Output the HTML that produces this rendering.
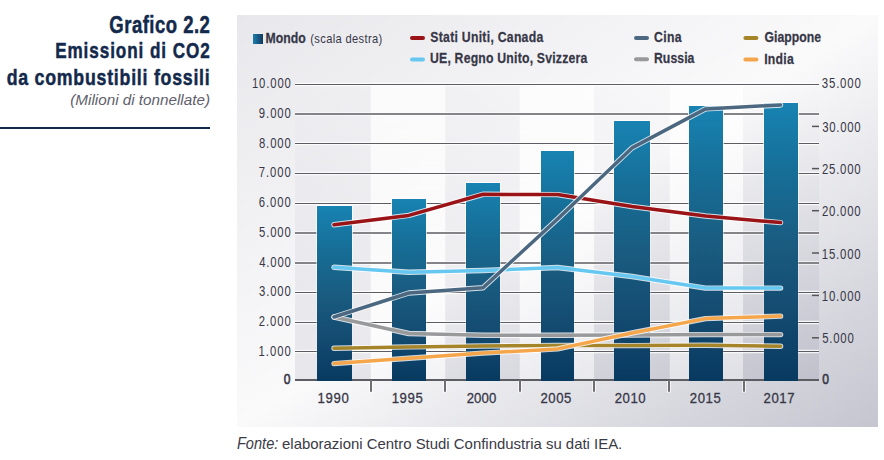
<!DOCTYPE html><html><head><meta charset="utf-8"><style>html,body{margin:0;padding:0;background:#fff;width:884px;height:460px;overflow:hidden}svg{display:block;font-family:"Liberation Sans", sans-serif;font-kerning:none;font-variant-ligatures:none}</style></head><body>
<svg width="884" height="460" viewBox="0 0 884 460">
<defs>
<linearGradient id="pg" x1="0" y1="0" x2="1" y2="1"><stop offset="0" stop-color="#e8e8ec"/><stop offset="0.5" stop-color="#fafafb"/><stop offset="1" stop-color="#c4c5cf"/></linearGradient>
<linearGradient id="gb" x1="0" y1="0" x2="0" y2="1"><stop offset="0" stop-color="#282850" stop-opacity="0"/><stop offset="1" stop-color="#282850" stop-opacity="0.09"/></linearGradient>
<linearGradient id="wb" x1="0" y1="0" x2="0" y2="1"><stop offset="0" stop-color="#ffffff" stop-opacity="0.75"/><stop offset="1" stop-color="#ffffff" stop-opacity="0.22"/></linearGradient>
<linearGradient id="bar" x1="0" y1="0" x2="0" y2="1"><stop offset="0" stop-color="#1883b2"/><stop offset="0.25" stop-color="#166e97"/><stop offset="0.5" stop-color="#1a5c81"/><stop offset="0.75" stop-color="#144b71"/><stop offset="1" stop-color="#083a60"/></linearGradient>
<linearGradient id="leg" x1="0" y1="0" x2="1" y2="0"><stop offset="0" stop-color="#1a7fb0"/><stop offset="1" stop-color="#13385c"/></linearGradient>
<linearGradient id="bw" x1="0" y1="0" x2="0" y2="1"><stop offset="0" stop-color="#fff" stop-opacity="0.8"/><stop offset="1" stop-color="#fff" stop-opacity="0"/></linearGradient>
</defs>
<rect x="237" y="15" width="641" height="412" fill="url(#pg)"/>
<rect x="295" y="84.4" width="75.8" height="295.6" fill="url(#gb)"/>
<rect x="370.8" y="84.4" width="74.4" height="295.6" fill="url(#wb)"/>
<rect x="445.2" y="84.4" width="74.6" height="295.6" fill="url(#gb)"/>
<rect x="519.8" y="84.4" width="74.2" height="295.6" fill="url(#wb)"/>
<rect x="594" y="84.4" width="75.8" height="295.6" fill="url(#gb)"/>
<rect x="669.8" y="84.4" width="73.2" height="295.6" fill="url(#wb)"/>
<rect x="743" y="84.4" width="76.0" height="295.6" fill="url(#gb)"/>
<line x1="295" x2="819" y1="380.0" y2="380.0" stroke="#5c5d62" stroke-width="2"/>
<line x1="295" x2="819" y1="351.5" y2="351.5" stroke="#ffffff" stroke-opacity="0.8" stroke-width="3.4"/>
<line x1="295" x2="819" y1="351.5" y2="351.5" stroke="#5c5d62" stroke-width="1.2"/>
<line x1="295" x2="819" y1="322.5" y2="322.5" stroke="#ffffff" stroke-opacity="0.8" stroke-width="3.4"/>
<line x1="295" x2="819" y1="322.5" y2="322.5" stroke="#5c5d62" stroke-width="1.2"/>
<line x1="295" x2="819" y1="292.5" y2="292.5" stroke="#ffffff" stroke-opacity="0.8" stroke-width="3.4"/>
<line x1="295" x2="819" y1="292.5" y2="292.5" stroke="#5c5d62" stroke-width="1.2"/>
<line x1="295" x2="819" y1="263.0" y2="263.0" stroke="#ffffff" stroke-opacity="0.8" stroke-width="3.4"/>
<line x1="295" x2="819" y1="263.0" y2="263.0" stroke="#5c5d62" stroke-width="1.7"/>
<line x1="295" x2="819" y1="233.0" y2="233.0" stroke="#ffffff" stroke-opacity="0.8" stroke-width="3.4"/>
<line x1="295" x2="819" y1="233.0" y2="233.0" stroke="#5c5d62" stroke-width="1.7"/>
<line x1="295" x2="819" y1="203.5" y2="203.5" stroke="#ffffff" stroke-opacity="0.8" stroke-width="3.4"/>
<line x1="295" x2="819" y1="203.5" y2="203.5" stroke="#5c5d62" stroke-width="1.2"/>
<line x1="295" x2="819" y1="173.5" y2="173.5" stroke="#ffffff" stroke-opacity="0.8" stroke-width="3.4"/>
<line x1="295" x2="819" y1="173.5" y2="173.5" stroke="#5c5d62" stroke-width="1.2"/>
<line x1="295" x2="819" y1="143.5" y2="143.5" stroke="#ffffff" stroke-opacity="0.8" stroke-width="3.4"/>
<line x1="295" x2="819" y1="143.5" y2="143.5" stroke="#5c5d62" stroke-width="1.2"/>
<line x1="295" x2="819" y1="114.0" y2="114.0" stroke="#ffffff" stroke-opacity="0.8" stroke-width="3.4"/>
<line x1="295" x2="819" y1="114.0" y2="114.0" stroke="#5c5d62" stroke-width="1.7"/>
<line x1="295" x2="819" y1="84.5" y2="84.5" stroke="#ffffff" stroke-opacity="0.8" stroke-width="3.4"/>
<line x1="295" x2="819" y1="84.5" y2="84.5" stroke="#5c5d62" stroke-width="1.2"/>
<line x1="812" x2="819" y1="337.8" y2="337.8" stroke="#555559" stroke-width="1.5"/>
<line x1="812" x2="819" y1="295.4" y2="295.4" stroke="#555559" stroke-width="1.5"/>
<line x1="812" x2="819" y1="253.0" y2="253.0" stroke="#555559" stroke-width="1.5"/>
<line x1="812" x2="819" y1="210.7" y2="210.7" stroke="#555559" stroke-width="1.5"/>
<line x1="812" x2="819" y1="168.6" y2="168.6" stroke="#555559" stroke-width="1.5"/>
<line x1="812" x2="819" y1="126.4" y2="126.4" stroke="#555559" stroke-width="1.5"/>
<line x1="371" x2="371" y1="381" y2="392.5" stroke="#ffffff" stroke-opacity="0.7" stroke-width="4"/>
<line x1="371" x2="371" y1="380" y2="391.8" stroke="#6e6e72" stroke-width="2"/>
<line x1="445" x2="445" y1="381" y2="392.5" stroke="#ffffff" stroke-opacity="0.7" stroke-width="4"/>
<line x1="445" x2="445" y1="380" y2="391.8" stroke="#6e6e72" stroke-width="2"/>
<line x1="520" x2="520" y1="381" y2="392.5" stroke="#ffffff" stroke-opacity="0.7" stroke-width="4"/>
<line x1="520" x2="520" y1="380" y2="391.8" stroke="#6e6e72" stroke-width="2"/>
<line x1="594" x2="594" y1="381" y2="392.5" stroke="#ffffff" stroke-opacity="0.7" stroke-width="4"/>
<line x1="594" x2="594" y1="380" y2="391.8" stroke="#6e6e72" stroke-width="2"/>
<line x1="669" x2="669" y1="381" y2="392.5" stroke="#ffffff" stroke-opacity="0.7" stroke-width="4"/>
<line x1="669" x2="669" y1="380" y2="391.8" stroke="#6e6e72" stroke-width="2"/>
<line x1="744" x2="744" y1="381" y2="392.5" stroke="#ffffff" stroke-opacity="0.7" stroke-width="4"/>
<line x1="744" x2="744" y1="380" y2="391.8" stroke="#6e6e72" stroke-width="2"/>
<rect x="316" y="205" width="37" height="174" fill="url(#bw)"/>
<rect x="317" y="206" width="35" height="175" fill="url(#bar)"/>
<rect x="391" y="198" width="36" height="181" fill="url(#bw)"/>
<rect x="392" y="199" width="34" height="182" fill="url(#bar)"/>
<rect x="465" y="182" width="36" height="197" fill="url(#bw)"/>
<rect x="466" y="183" width="34" height="198" fill="url(#bar)"/>
<rect x="540" y="150" width="35" height="229" fill="url(#bw)"/>
<rect x="541" y="151" width="33" height="230" fill="url(#bar)"/>
<rect x="613" y="120" width="38" height="259" fill="url(#bw)"/>
<rect x="614" y="121" width="36" height="260" fill="url(#bar)"/>
<rect x="688" y="105" width="36" height="274" fill="url(#bw)"/>
<rect x="689" y="106" width="34" height="275" fill="url(#bar)"/>
<rect x="763" y="102" width="36" height="277" fill="url(#bw)"/>
<rect x="764" y="103" width="34" height="278" fill="url(#bar)"/>
<polyline points="334,224.8 408.8,215.4 483,194.3 557.6,194.6 632,206.5 705.5,216.0 780.6,222.6" fill="none" stroke="#ffffff" stroke-opacity="0.8" stroke-width="5.4" stroke-linejoin="round" stroke-linecap="round"/>
<polyline points="334,224.8 408.8,215.4 483,194.3 557.6,194.6 632,206.5 705.5,216.0 780.6,222.6" fill="none" stroke="#9a1317" stroke-width="3.5" stroke-linejoin="round" stroke-linecap="round"/>
<polyline points="334,267.3 408.8,272.3 483,270.5 557.6,267.5 632,276.5 705.5,288.1 780.6,288.1" fill="none" stroke="#ffffff" stroke-opacity="0.8" stroke-width="5.4" stroke-linejoin="round" stroke-linecap="round"/>
<polyline points="334,267.3 408.8,272.3 483,270.5 557.6,267.5 632,276.5 705.5,288.1 780.6,288.1" fill="none" stroke="#66c8f1" stroke-width="3.5" stroke-linejoin="round" stroke-linecap="round"/>
<polyline points="334,317.0 408.8,333.5 483,335.3 557.6,335.2 632,335.0 705.5,334.6 780.6,334.6" fill="none" stroke="#ffffff" stroke-opacity="0.8" stroke-width="5.4" stroke-linejoin="round" stroke-linecap="round"/>
<polyline points="334,317.0 408.8,333.5 483,335.3 557.6,335.2 632,335.0 705.5,334.6 780.6,334.6" fill="none" stroke="#98999b" stroke-width="3.5" stroke-linejoin="round" stroke-linecap="round"/>
<polyline points="334,348.3 408.8,346.9 483,346.0 557.6,345.5 632,345.6 705.5,345.2 780.6,346.3" fill="none" stroke="#ffffff" stroke-opacity="0.8" stroke-width="5.4" stroke-linejoin="round" stroke-linecap="round"/>
<polyline points="334,348.3 408.8,346.9 483,346.0 557.6,345.5 632,345.6 705.5,345.2 780.6,346.3" fill="none" stroke="#a6852a" stroke-width="3.5" stroke-linejoin="round" stroke-linecap="round"/>
<polyline points="334,317.0 408.8,293.0 483,287.7 557.6,219.0 632,147.9 705.5,108.9 780.6,105.0" fill="none" stroke="#ffffff" stroke-opacity="0.8" stroke-width="5.4" stroke-linejoin="round" stroke-linecap="round"/>
<polyline points="334,317.0 408.8,293.0 483,287.7 557.6,219.0 632,147.9 705.5,108.9 780.6,105.0" fill="none" stroke="#4b6880" stroke-width="3.5" stroke-linejoin="round" stroke-linecap="round"/>
<polyline points="334,363.6 408.8,358.2 483,353.1 557.6,348.9 632,333.0 705.5,318.6 780.6,316.1" fill="none" stroke="#ffffff" stroke-opacity="0.8" stroke-width="5.4" stroke-linejoin="round" stroke-linecap="round"/>
<polyline points="334,363.6 408.8,358.2 483,353.1 557.6,348.9 632,333.0 705.5,318.6 780.6,316.1" fill="none" stroke="#f5a64b" stroke-width="3.5" stroke-linejoin="round" stroke-linecap="round"/>
<text transform="translate(283.83 383.7) scale(0.86 1)" font-size="14.04" font-weight="normal" font-style="normal" fill="#373747" letter-spacing="0" stroke="#373747" stroke-width="0.6">0</text>
<text transform="translate(258.54 355.85) scale(0.78 1)" font-size="14.46" font-weight="normal" font-style="normal" fill="#373747" letter-spacing="1.303">1.000</text>
<text transform="translate(258.83 326.15) scale(0.78 1)" font-size="14.46" font-weight="normal" font-style="normal" fill="#373747" letter-spacing="1.21">2.000</text>
<text transform="translate(258.97 296.45) scale(0.78 1)" font-size="14.46" font-weight="normal" font-style="normal" fill="#373747" letter-spacing="1.165">3.000</text>
<text transform="translate(259.14 266.95) scale(0.78 1)" font-size="14.46" font-weight="normal" font-style="normal" fill="#373747" letter-spacing="1.111">4.000</text>
<text transform="translate(258.95 237.05) scale(0.78 1)" font-size="14.46" font-weight="normal" font-style="normal" fill="#373747" letter-spacing="1.173">5.000</text>
<text transform="translate(258.83 207.25) scale(0.78 1)" font-size="14.46" font-weight="normal" font-style="normal" fill="#373747" letter-spacing="1.211">6.000</text>
<text transform="translate(258.82 177.45) scale(0.78 1)" font-size="14.46" font-weight="normal" font-style="normal" fill="#373747" letter-spacing="1.213">7.000</text>
<text transform="translate(258.91 147.55) scale(0.78 1)" font-size="14.46" font-weight="normal" font-style="normal" fill="#373747" letter-spacing="1.185">8.000</text>
<text transform="translate(258.87 117.75) scale(0.78 1)" font-size="14.46" font-weight="normal" font-style="normal" fill="#373747" letter-spacing="1.197">9.000</text>
<text transform="translate(251.94 87.8) scale(0.78 1)" font-size="14.46" font-weight="normal" font-style="normal" fill="#373747" letter-spacing="1.126">10.000</text>
<text transform="translate(822.14 343.0) scale(0.78 1)" font-size="14.61" font-weight="normal" font-style="normal" fill="#373747" letter-spacing="1.022">5.000</text>
<text transform="translate(821.73 300.85) scale(0.78 1)" font-size="14.61" font-weight="normal" font-style="normal" fill="#373747" letter-spacing="1.042">10.000</text>
<text transform="translate(821.73 258.6) scale(0.78 1)" font-size="14.61" font-weight="normal" font-style="normal" fill="#373747" letter-spacing="1.042">15.000</text>
<text transform="translate(822.03 216.3) scale(0.78 1)" font-size="14.61" font-weight="normal" font-style="normal" fill="#373747" letter-spacing="0.966">20.000</text>
<text transform="translate(822.03 174.4) scale(0.78 1)" font-size="14.61" font-weight="normal" font-style="normal" fill="#373747" letter-spacing="0.966">25.000</text>
<text transform="translate(822.17 132.0) scale(0.78 1)" font-size="14.61" font-weight="normal" font-style="normal" fill="#373747" letter-spacing="0.93">30.000</text>
<text transform="translate(821.87 88.0) scale(0.78 1)" font-size="14.61" font-weight="normal" font-style="normal" fill="#373747" letter-spacing="1.033">35.000</text>
<text transform="translate(822.33 383.7) scale(0.86 1)" font-size="14.04" font-weight="normal" font-style="normal" fill="#373747" letter-spacing="0" stroke="#373747" stroke-width="0.6">0</text>
<text transform="translate(317.6 402.6) scale(0.86 1)" font-size="15.32" font-weight="normal" font-style="normal" fill="#373747" letter-spacing="0.737" stroke="#373747" stroke-width="0.3">1990</text>
<text transform="translate(391.7 402.6) scale(0.86 1)" font-size="15.32" font-weight="normal" font-style="normal" fill="#373747" letter-spacing="0.674" stroke="#373747" stroke-width="0.3">1995</text>
<text transform="translate(466.64 402.6) scale(0.86 1)" font-size="15.32" font-weight="normal" font-style="normal" fill="#373747" letter-spacing="0.178" stroke="#373747" stroke-width="0.3">2000</text>
<text transform="translate(540.54 402.6) scale(0.86 1)" font-size="15.32" font-weight="normal" font-style="normal" fill="#373747" letter-spacing="0.581" stroke="#373747" stroke-width="0.3">2005</text>
<text transform="translate(614.84 402.6) scale(0.86 1)" font-size="15.32" font-weight="normal" font-style="normal" fill="#373747" letter-spacing="0.527" stroke="#373747" stroke-width="0.3">2010</text>
<text transform="translate(689.84 402.6) scale(0.86 1)" font-size="15.32" font-weight="normal" font-style="normal" fill="#373747" letter-spacing="0.62" stroke="#373747" stroke-width="0.3">2015</text>
<text transform="translate(763.54 402.6) scale(0.86 1)" font-size="15.32" font-weight="normal" font-style="normal" fill="#373747" letter-spacing="0.662" stroke="#373747" stroke-width="0.3">2017</text>
<rect x="253" y="34" width="10" height="10" fill="url(#leg)"/>
<text transform="translate(265.38 43.0) scale(0.8 1)" font-size="15.32" font-weight="bold" font-style="normal" fill="#373747" letter-spacing="0.108" stroke="#373747" stroke-width="0.25">Mondo</text>
<text transform="translate(310.31 43.0) scale(0.82 1)" font-size="13.6" font-weight="normal" font-style="normal" fill="#373747" letter-spacing="0.415">(scala destra)</text>
<line x1="412" x2="423" y1="38.0" y2="38.0" stroke="#9a1317" stroke-width="4" stroke-linecap="round"/>
<text transform="translate(430.35 41.9) scale(0.8 1)" font-size="15.3" font-weight="bold" font-style="normal" fill="#373747" letter-spacing="0.336" stroke="#373747" stroke-width="0.25">Stati Uniti, Canada</text>
<line x1="412" x2="423" y1="59.5" y2="59.5" stroke="#66c8f1" stroke-width="4" stroke-linecap="round"/>
<text transform="translate(429.96 63.4) scale(0.8 1)" font-size="15.3" font-weight="bold" font-style="normal" fill="#373747" letter-spacing="0.266" stroke="#373747" stroke-width="0.25">UE, Regno Unito, Svizzera</text>
<line x1="636" x2="647" y1="38.0" y2="38.0" stroke="#4b6880" stroke-width="4" stroke-linecap="round"/>
<text transform="translate(654.1 41.7) scale(0.8 1)" font-size="15.3" font-weight="bold" font-style="normal" fill="#373747" letter-spacing="0.375" stroke="#373747" stroke-width="0.25">Cina</text>
<line x1="636" x2="647" y1="59.3" y2="59.3" stroke="#98999b" stroke-width="4" stroke-linecap="round"/>
<text transform="translate(653.98 63.4) scale(0.8 1)" font-size="15.3" font-weight="bold" font-style="normal" fill="#373747" letter-spacing="0.076" stroke="#373747" stroke-width="0.25">Russia</text>
<line x1="745.4" x2="756.4" y1="38.0" y2="38.0" stroke="#a6852a" stroke-width="4" stroke-linecap="round"/>
<text transform="translate(764.5 41.8) scale(0.8 1)" font-size="15.3" font-weight="bold" font-style="normal" fill="#373747" letter-spacing="0.032" stroke="#373747" stroke-width="0.25">Giappone</text>
<line x1="745.4" x2="756.4" y1="59.4" y2="59.4" stroke="#f5a64b" stroke-width="4" stroke-linecap="round"/>
<text transform="translate(764.18 63.6) scale(0.8 1)" font-size="15.3" font-weight="bold" font-style="normal" fill="#373747" letter-spacing="0.306" stroke="#373747" stroke-width="0.25">India</text>
<text transform="translate(109.34 32.8) scale(0.78 1)" font-size="23.74" font-weight="bold" font-style="normal" fill="#13294b" letter-spacing="0.628" stroke="#13294b" stroke-width="0.5">Grafico 2.2</text>
<text transform="translate(55.16 58.4) scale(0.78 1)" font-size="21.94" font-weight="bold" font-style="normal" fill="#13294b" letter-spacing="1.186" stroke="#13294b" stroke-width="0.5">Emissioni di CO2</text>
<text transform="translate(6.67 84.5) scale(0.78 1)" font-size="22.77" font-weight="bold" font-style="normal" fill="#13294b" letter-spacing="0.971" stroke="#13294b" stroke-width="0.5">da combustibili fossili</text>
<text x="70.29" y="104.6" font-size="15.3" font-weight="normal" font-style="italic" fill="#5e5e6c" textLength="139.72" lengthAdjust="spacingAndGlyphs">(Milioni di tonnellate)</text>
<rect x="0" y="127" width="210" height="2" fill="#13294b"/>
<text x="236.95" y="448.8" font-size="15.84" font-weight="normal" font-style="italic" fill="#3a3a46" textLength="41.43" lengthAdjust="spacingAndGlyphs">Fonte:</text>
<text x="282.07" y="448.8" font-size="15.0" font-weight="normal" font-style="normal" fill="#3a3a46" textLength="340.2" lengthAdjust="spacingAndGlyphs">elaborazioni Centro Studi Confindustria su dati IEA.</text>
</svg></body></html>
